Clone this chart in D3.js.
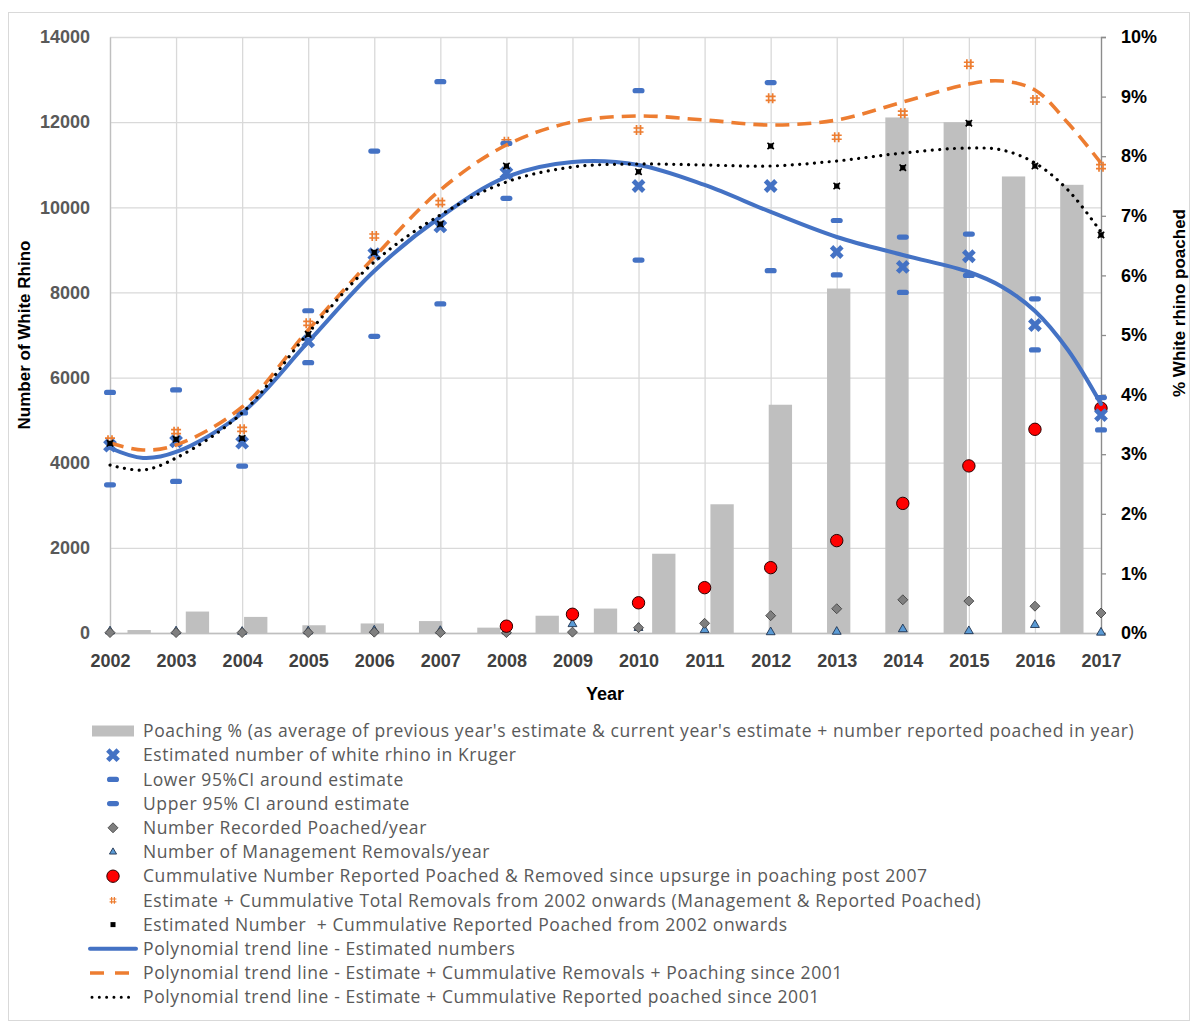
<!DOCTYPE html>
<html><head><meta charset="utf-8">
<script src="https://cdn.jsdelivr.net/npm/d3@7"></script>
<style>body{margin:0;background:#fff}svg{display:block}.lgt{white-space:pre}</style>
</head><body>
<svg id="chart" width="1193" height="1026"></svg>
<script>
// ---------- DATA ----------
const years = [2002,2003,2004,2005,2006,2007,2008,2009,2010,2011,2012,2013,2014,2015,2016,2017];
const leftTicks = [0,2000,4000,6000,8000,10000,12000,14000];
const rightTicks = [0,1,2,3,4,5,6,7,8,9,10];
const barCategories = ["2001","2002","2003","2004","2005","2006","2007","2008","2009","2010","2011","2012","2013","2014","2015","2016","2017"];
const poachingPct = [0.05,0.36,0.27,0.13,0.16,0.20,0.09,0.29,0.41,1.33,2.16,3.83,5.78,8.65,8.57,7.66,7.52];
const estimate = [4400,4500,4470,6850,8900,9550,10800,null,10500,null,10500,8950,8600,8850,7235,5120];
const lowerCI = [3480,3560,3920,6350,6970,7730,10210,null,8760,null,8510,8410,8000,8400,6650,4770];
const upperCI = [5650,5710,5170,7570,11320,12950,11500,null,12740,null,12930,9690,9300,9370,7850,5530];
const poachedPerYear = [10,10,10,10,20,10,10,20,125,227,407,570,780,750,630,470];
const managementRemovals = [40,40,30,40,60,50,40,210,120,70,20,30,90,45,190,10];
const cumulativeSince2007 = [null,null,null,null,null,null,160,440,710,1065,1535,2170,3045,3925,4785,5280];
const estPlusTotalRemovals = [4530,4730,4785,7275,9325,10110,11540,null,11815,null,12560,11645,12210,13360,12520,10955];
const estPlusPoached = [4455,4550,4575,7015,8940,9605,10970,null,10835,null,11440,10500,10930,11975,10970,9350];
const trendX = [2002,2002.5,2003,2004,2005,2006,2007,2008,2009,2010,2011,2012,2013,2014,2015,2015.5,2016,2016.5,2017];
const trendEstimate = [4346,4111,4252,5168,6836,8503,9772,10712,11064,10994,10524,9890,9302,8879,8480,8135,7564,6648,5380];
const trendRemovals = [4463,4299,4416,5309,7118,8832,10406,11463,12003,12144,12050,11933,12050,12473,12896,12967,12755,11980,11040];
const trendPoached = [3946,3829,4111,5168,7047,8715,9819,10594,10946,11017,10994,10970,11087,11275,11393,11346,11041,10406,9419];
const legendLabels = [
 "Poaching % (as average of previous year's estimate & current year's estimate + number reported poached in year)",
 "Estimated number of white rhino in Kruger",
 "Lower 95%CI around estimate",
 "Upper 95% CI around estimate",
 "Number Recorded Poached/year",
 "Number of Management Removals/year",
 "Cummulative Number Reported Poached & Removed since upsurge in poaching post 2007",
 "Estimate + Cummulative Total Removals from 2002 onwards (Management & Reported Poached)",
 "Estimated Number  + Cummulative Reported Poached from 2002 onwards",
 "Polynomial trend line - Estimated numbers",
 "Polynomial trend line - Estimate + Cummulative Removals + Poaching since 2001",
 "Polynomial trend line - Estimate + Cummulative Reported poached since 2001"
];

// ---------- LAYOUT ----------
const svg = d3.select("#chart");
const L = 110, R = 1101, T = 37, B = 633;
const x = d3.scaleLinear().domain([2002,2017]).range([L,R]);
const y = d3.scaleLinear().domain([0,14000]).range([B,T]);
const y2 = d3.scaleLinear().domain([0,10]).range([B,T]);
const xb = d3.scaleBand().domain(barCategories).range([L,R]).paddingInner(0.6).paddingOuter(0.3);

const BLUE = "#4472C4", ORANGE = "#ED7D31";
const FONT = "'Liberation Sans', Arial, sans-serif";

svg.append("rect").attr("width",1193).attr("height",1026).attr("fill","#fff");
svg.append("rect").attr("x",8.5).attr("y",12.5).attr("width",1181).attr("height",1008)
  .attr("fill","none").attr("stroke","#d9d9d9");

// gridlines
const g = svg.append("g");
g.append("g").attr("transform",`translate(${L},0)`)
  .call(d3.axisLeft(y).tickValues(leftTicks).tickSize(-(R-L)).tickFormat(""))
  .call(s=>{s.select(".domain").remove(); s.selectAll("line").attr("stroke","#d9d9d9").attr("stroke-width",1.3);});
g.append("g").attr("transform",`translate(0,${B})`)
  .call(d3.axisBottom(x).tickValues(years).tickSize(-(B-T)).tickFormat(""))
  .call(s=>{s.select(".domain").remove(); s.selectAll("line").attr("stroke","#d9d9d9").attr("stroke-width",1.3);});

// left axis labels
const la = svg.append("g").attr("transform",`translate(${L},0)`)
  .call(d3.axisLeft(y).tickValues(leftTicks).tickSize(0).tickPadding(20).tickFormat(d3.format("d")));
la.select(".domain").attr("stroke","#bfbfbf").attr("stroke-width",1.3);
la.selectAll("text").attr("font-family",FONT).attr("font-weight","bold").attr("font-size",18).attr("fill","#595959");

// bottom axis
const ba = svg.append("g").attr("transform",`translate(0,${B})`)
  .call(d3.axisBottom(x).tickValues(years).tickSize(0).tickPadding(21).tickFormat(d3.format("d")));
ba.select(".domain").attr("stroke","#bfbfbf").attr("stroke-width",1.3);
ba.selectAll("text").attr("font-family",FONT).attr("font-weight","bold").attr("font-size",18).attr("fill","#404040");

// right axis
const ra = svg.append("g").attr("transform",`translate(${R},0)`)
  .call(d3.axisRight(y2).tickValues(rightTicks).tickSize(5).tickPadding(15).tickFormat(d=>d+"%"));
ra.select(".domain").attr("stroke","#8c8c8c").attr("stroke-width",1.3);
ra.selectAll("line").attr("stroke","#8c8c8c").attr("stroke-width",1.3);
ra.selectAll("text").attr("font-family",FONT).attr("font-weight","bold").attr("font-size",18).attr("fill","#000");

// axis titles
svg.append("text").attr("transform","translate(30,335) rotate(-90)").attr("text-anchor","middle")
  .attr("font-family",FONT).attr("font-weight","bold").attr("font-size",17).text("Number of White Rhino");
svg.append("text").attr("transform","translate(1185,303) rotate(-90)").attr("text-anchor","middle")
  .attr("font-family",FONT).attr("font-weight","bold").attr("font-size",17).text("% White rhino poached");
svg.append("text").attr("x",605).attr("y",700).attr("text-anchor","middle")
  .attr("font-family",FONT).attr("font-weight","bold").attr("font-size",18).text("Year");

// bars
svg.append("g").selectAll("rect").data(poachingPct).join("rect")
  .attr("x",(d,i)=>xb(barCategories[i])).attr("width",xb.bandwidth())
  .attr("y",d=>y2(d)).attr("height",d=>B-y2(d)).attr("fill","#bfbfbf");

// marker helpers
const pts = arr => arr.map((v,i)=>({yr:years[i],v})).filter(d=>d.v!==null);
const xPath = s => `M${-s},${-s}L${s},${s}M${-s},${s}L${s},${-s}`;
const hashPath = "M-2,-5V5M2,-5V5M-5,-2H5M-5,2H5";
const diamond = d3.symbol().type(d3.symbolSquare).size(50)();
const tri = d3.symbol().type(d3.symbolTriangle).size(34)();

function drawDiamond(sel){ sel.append("path").attr("d",diamond).attr("transform","rotate(45)").attr("fill","#7f7f7f").attr("stroke","#404040").attr("stroke-width",0.8); }
function drawTri(sel){ sel.append("path").attr("d",tri).attr("fill","#5b9bd5").attr("stroke","#1f3350").attr("stroke-width",0.9); }
function drawCircle(sel){ sel.append("circle").attr("r",6.2).attr("fill","#ff0000").attr("stroke","#2b0000").attr("stroke-width",1); }
function drawHash(sel){ sel.append("path").attr("d",hashPath).attr("fill","none").attr("stroke",ORANGE).attr("stroke-width",1.7); }
function drawBlack(sel){ sel.append("rect").attr("x",-2.6).attr("y",-2.6).attr("width",5.2).attr("height",5.2).attr("fill","#000");
  sel.append("path").attr("d",xPath(3.2)).attr("stroke","#000").attr("stroke-width",1.6); }
function drawDash(sel){ sel.append("rect").attr("x",-6).attr("y",-2.6).attr("width",12).attr("height",5.2).attr("rx",2.6).attr("fill",BLUE); }
function drawX(sel){ sel.append("path").attr("d",xPath(5.2)).attr("fill","none").attr("stroke",BLUE).attr("stroke-width",4.8); }

function series(arr, drawer){
  svg.append("g").selectAll("g").data(pts(arr)).join("g")
    .attr("transform",d=>`translate(${x(d.yr)},${y(d.v)})`).each(function(){ drawer(d3.select(this)); });
}
series(managementRemovals, drawTri);
series(poachedPerYear, drawDiamond);
series(cumulativeSince2007, drawCircle);
series(estPlusTotalRemovals, drawHash);
series(lowerCI, drawDash);
series(upperCI, drawDash);
series(estimate, drawX);

// trend lines
const line = d3.line().x((d,i)=>x(trendX[i])).y(d=>y(d)).curve(d3.curveCatmullRom.alpha(0.5));
svg.append("path").attr("d",line(trendEstimate)).attr("fill","none").attr("stroke",BLUE).attr("stroke-width",4).attr("stroke-linecap","round");
svg.append("path").attr("d",line(trendRemovals)).attr("fill","none").attr("stroke",ORANGE).attr("stroke-width",3.6).attr("stroke-dasharray","14,8");
svg.append("path").attr("d",line(trendPoached)).attr("fill","none").attr("stroke","#000").attr("stroke-width",3.2)
  .attr("stroke-linecap","round").attr("stroke-dasharray","0.01,7.4");
series(estPlusPoached, drawBlack);

// legend
const lg = svg.append("g");
const rowY = i => 731 + i*24.2;
const symX = 113;
const legendDrawers = [
  s=>s.append("rect").attr("x",-21).attr("y",-5.5).attr("width",42).attr("height",11).attr("fill","#bfbfbf"),
  drawX, drawDash, drawDash, drawDiamond, s=>{ s.append("path").attr("d",d3.symbol().type(d3.symbolTriangle).size(22)()).attr("fill","#5b9bd5").attr("stroke","#1f3350").attr("stroke-width",0.9); },
  drawCircle, s=>{ s.append("path").attr("d","M-1.4,-3.4V3.4M1.4,-3.4V3.4M-3.4,-1.4H3.4M-3.4,1.4H3.4").attr("fill","none").attr("stroke",ORANGE).attr("stroke-width",1.2); },
  s=>{ s.append("rect").attr("x",-2.5).attr("y",-2.5).attr("width",5).attr("height",5).attr("fill","#000"); },
  s=>s.append("line").attr("x1",-23).attr("x2",23).attr("stroke",BLUE).attr("stroke-width",4).attr("stroke-linecap","round"),
  s=>s.append("line").attr("x1",-23).attr("x2",22).attr("stroke",ORANGE).attr("stroke-width",3.6).attr("stroke-dasharray","14,11"),
  s=>s.append("line").attr("x1",-21).attr("x2",22).attr("stroke","#000").attr("stroke-width",3).attr("stroke-linecap","round").attr("stroke-dasharray","0.01,7.3")
];
legendLabels.forEach((t,i)=>{
  const r = lg.append("g").attr("transform",`translate(0,${rowY(i)})`);
  legendDrawers[i](r.append("g").attr("transform",`translate(${symX},0)`));
  r.append("text").attr("class","lgt").attr("x",143).attr("y",0).attr("dy","0.35em").attr("font-family","'Open Sans', sans-serif")
    .attr("font-size",17.5).attr("letter-spacing",0.6).attr("fill","#595959").text(t);
});
</script>
</body></html>
